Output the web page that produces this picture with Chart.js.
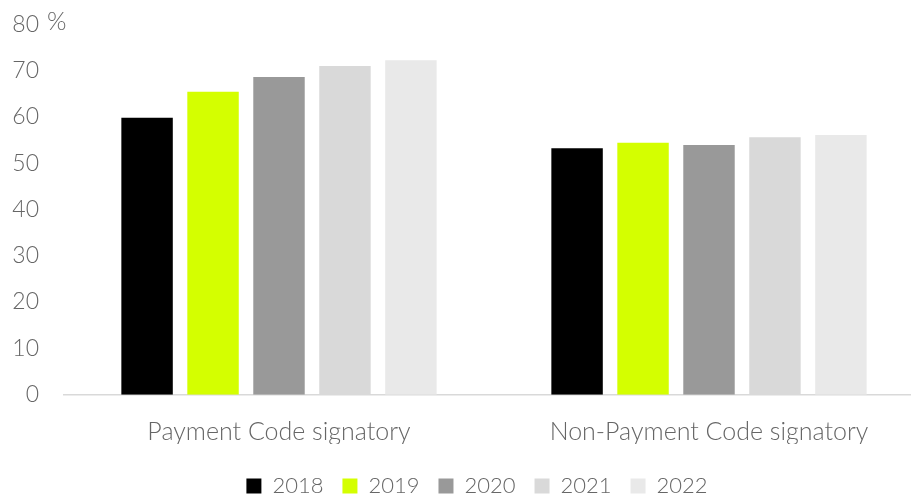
<!DOCTYPE html>
<html>
<head>
<meta charset="utf-8">
<script src="https://cdn.jsdelivr.net/npm/chart.js@4/dist/chart.umd.min.js"></script>
<style>
  html, body { margin: 0; padding: 0; overflow: hidden; background: #fff; width: 911px; height: 495px; }
  #wrap { position: relative; width: 940px; height: 495px; }
</style>
</head>
<body>
<div id="wrap"><canvas id="c" width="940" height="495"></canvas></div>
<script>
const categories = ["Payment Code signatory", "Non-Payment Code signatory"];
const years = ["2018", "2019", "2020", "2021", "2022"];
const values2018 = [59.8, 53.2];
const values2019 = [65.4, 54.4];
const values2020 = [68.6, 53.9];
const values2021 = [71.0, 55.6];
const values2022 = [72.2, 56.1];
const yTicks = [0, 10, 20, 30, 40, 50, 60, 70, 80];
const unitLabel = "%";

const colors = ["#000000", "#d4ff00", "#999999", "#d9d9d9", "#e9e9e9"];
const seriesValues = [values2018, values2019, values2020, values2021, values2022];
const textColor = "#666666";
const fontFamily = "Lato, 'Open Sans', sans-serif";

const unitPlugin = {
  id: "unitLabel",
  afterLayout(chart) {
    const lg = chart.legend;
    if (lg) {
      const dx = 15, dy = 12;
      lg.left += dx; lg.right += dx;
      lg.top += dy; lg.bottom += dy;
    }
  },
  afterDraw(chart) {
    const ctx = chart.ctx;
    const y = chart.scales.y.getPixelForValue(80);
    ctx.save();
    ctx.font = "300 25px " + fontFamily;
    ctx.fillStyle = textColor;
    ctx.textAlign = "left";
    ctx.textBaseline = "middle";
    ctx.fillText(unitLabel, 47, y - 2);
    ctx.restore();
  }
};

new Chart(document.getElementById("c"), {
  type: "bar",
  data: {
    labels: categories,
    datasets: years.map((yr, i) => ({
      label: yr,
      data: seriesValues[i],
      backgroundColor: colors[i],
      borderWidth: 0,
      categoryPercentage: 0.767,
      barPercentage: 0.78
    }))
  },
  options: {
    responsive: false,
    animation: false,
    layout: { padding: { left: 0, right: 16, top: 24.2, bottom: 0 } },
    plugins: {
      tooltip: { enabled: false },
      legend: {
        position: "bottom",
        labels: {
          boxWidth: 15,
          boxHeight: 15,
          padding: 19,
          color: textColor,
          font: { family: fontFamily, size: 22, weight: 300 }
        }
      }
    },
    scales: {
      x: {
        grid: { display: false, drawTicks: false },
        border: { display: true, color: "#d9d9d9", width: 1.5 },
        afterFit(scale) {
          const lh = scale.chart.legend ? scale.chart.legend.height : 0;
          scale.height = 100.3 - lh;
          scale.paddingLeft = 0;
          scale.paddingRight = 0;
        },
        ticks: {
          color: textColor,
          padding: 22,
          font: { family: fontFamily, size: 25, weight: 300 }
        }
      },
      y: {
        min: 0,
        max: 80,
        afterBuildTicks(scale) { scale.ticks = yTicks.map(v => ({ value: v })); },
        afterFit(scale) {
          scale.width = 64;
          scale.paddingTop = 0;
          scale.paddingBottom = 0;
        },
        grid: { display: false, drawTicks: false },
        border: { display: false },
        ticks: {
          color: textColor,
          padding: 25,
          font: { family: fontFamily, size: 23, weight: 300 }
        }
      }
    }
  },
  plugins: [unitPlugin]
});
</script>
</body>
</html>
